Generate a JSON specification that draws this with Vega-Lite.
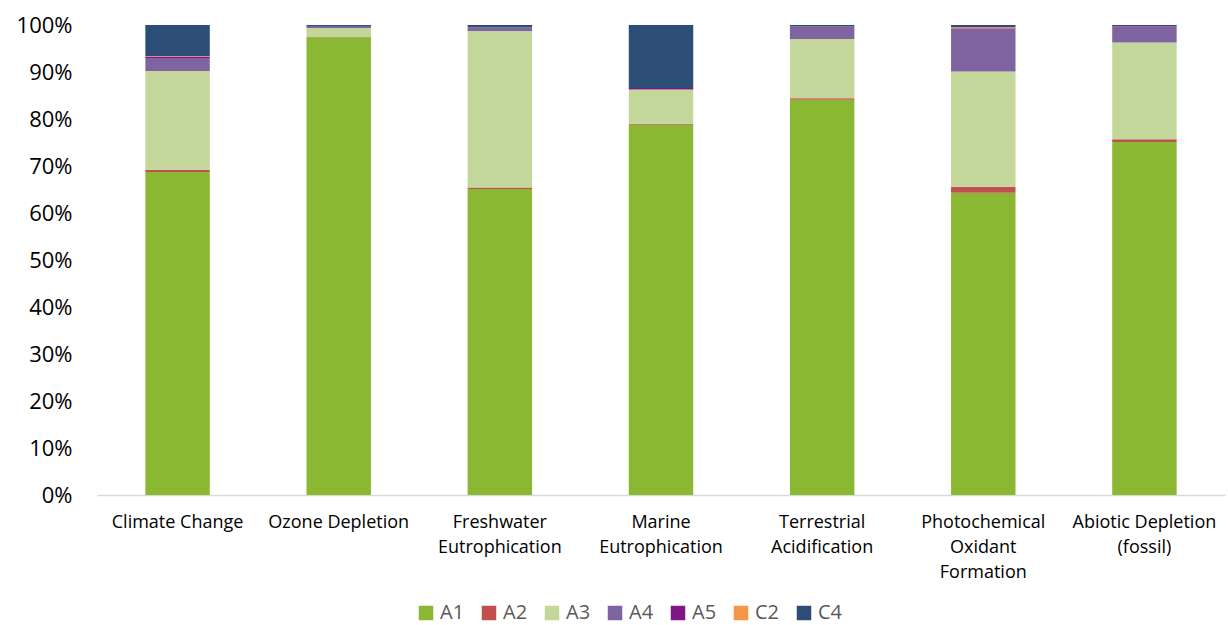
{
  "$schema": "https://vega.github.io/schema/vega-lite/v6.json",
  "width": 1128,
  "height": 470,
  "autosize": {"type": "none"},
  "padding": {"left": 97, "top": 25, "right": 3, "bottom": 130},
  "background": "white",
  "config": {
    "view": {"stroke": null},
    "font": "Open Sans"
  },
  "data": {
    "values": [
      {"cat": "Climate Change", "stage": "A1", "order": 1, "v": 68.7},
      {"cat": "Climate Change", "stage": "A2", "order": 2, "v": 0.5},
      {"cat": "Climate Change", "stage": "A3", "order": 3, "v": 21.0},
      {"cat": "Climate Change", "stage": "A4", "order": 4, "v": 2.8},
      {"cat": "Climate Change", "stage": "A5", "order": 5, "v": 0.3},
      {"cat": "Climate Change", "stage": "C2", "order": 6, "v": 0.1},
      {"cat": "Climate Change", "stage": "C4", "order": 7, "v": 6.6},

      {"cat": "Ozone Depletion", "stage": "A1", "order": 1, "v": 97.4},
      {"cat": "Ozone Depletion", "stage": "A2", "order": 2, "v": 0.05},
      {"cat": "Ozone Depletion", "stage": "A3", "order": 3, "v": 1.9},
      {"cat": "Ozone Depletion", "stage": "A4", "order": 4, "v": 0.45},
      {"cat": "Ozone Depletion", "stage": "A5", "order": 5, "v": 0.0},
      {"cat": "Ozone Depletion", "stage": "C2", "order": 6, "v": 0.0},
      {"cat": "Ozone Depletion", "stage": "C4", "order": 7, "v": 0.2},

      {"cat": "Freshwater Eutrophication", "stage": "A1", "order": 1, "v": 65.1},
      {"cat": "Freshwater Eutrophication", "stage": "A2", "order": 2, "v": 0.3},
      {"cat": "Freshwater Eutrophication", "stage": "A3", "order": 3, "v": 33.3},
      {"cat": "Freshwater Eutrophication", "stage": "A4", "order": 4, "v": 0.8},
      {"cat": "Freshwater Eutrophication", "stage": "A5", "order": 5, "v": 0.0},
      {"cat": "Freshwater Eutrophication", "stage": "C2", "order": 6, "v": 0.0},
      {"cat": "Freshwater Eutrophication", "stage": "C4", "order": 7, "v": 0.5},

      {"cat": "Marine Eutrophication", "stage": "A1", "order": 1, "v": 78.8},
      {"cat": "Marine Eutrophication", "stage": "A2", "order": 2, "v": 0.2},
      {"cat": "Marine Eutrophication", "stage": "A3", "order": 3, "v": 7.3},
      {"cat": "Marine Eutrophication", "stage": "A4", "order": 4, "v": 0.0},
      {"cat": "Marine Eutrophication", "stage": "A5", "order": 5, "v": 0.3},
      {"cat": "Marine Eutrophication", "stage": "C2", "order": 6, "v": 0.0},
      {"cat": "Marine Eutrophication", "stage": "C4", "order": 7, "v": 13.4},

      {"cat": "Terrestrial Acidification", "stage": "A1", "order": 1, "v": 84.1},
      {"cat": "Terrestrial Acidification", "stage": "A2", "order": 2, "v": 0.3},
      {"cat": "Terrestrial Acidification", "stage": "A3", "order": 3, "v": 12.6},
      {"cat": "Terrestrial Acidification", "stage": "A4", "order": 4, "v": 2.7},
      {"cat": "Terrestrial Acidification", "stage": "A5", "order": 5, "v": 0.0},
      {"cat": "Terrestrial Acidification", "stage": "C2", "order": 6, "v": 0.0},
      {"cat": "Terrestrial Acidification", "stage": "C4", "order": 7, "v": 0.3},

      {"cat": "Photochemical Oxidant Formation", "stage": "A1", "order": 1, "v": 64.3},
      {"cat": "Photochemical Oxidant Formation", "stage": "A2", "order": 2, "v": 1.3},
      {"cat": "Photochemical Oxidant Formation", "stage": "A3", "order": 3, "v": 24.5},
      {"cat": "Photochemical Oxidant Formation", "stage": "A4", "order": 4, "v": 9.1},
      {"cat": "Photochemical Oxidant Formation", "stage": "A5", "order": 5, "v": 0.1},
      {"cat": "Photochemical Oxidant Formation", "stage": "C2", "order": 6, "v": 0.2},
      {"cat": "Photochemical Oxidant Formation", "stage": "C4", "order": 7, "v": 0.5},

      {"cat": "Abiotic Depletion (fossil)", "stage": "A1", "order": 1, "v": 75.1},
      {"cat": "Abiotic Depletion (fossil)", "stage": "A2", "order": 2, "v": 0.6},
      {"cat": "Abiotic Depletion (fossil)", "stage": "A3", "order": 3, "v": 20.6},
      {"cat": "Abiotic Depletion (fossil)", "stage": "A4", "order": 4, "v": 3.4},
      {"cat": "Abiotic Depletion (fossil)", "stage": "A5", "order": 5, "v": 0.1},
      {"cat": "Abiotic Depletion (fossil)", "stage": "C2", "order": 6, "v": 0.0},
      {"cat": "Abiotic Depletion (fossil)", "stage": "C4", "order": 7, "v": 0.2}
    ]
  },
  "mark": {"type": "bar"},
  "encoding": {
    "x": {
      "field": "cat",
      "type": "nominal",
      "sort": null,
      "title": null,
      "scale": {"paddingInner": 0.6, "paddingOuter": 0.3},
      "axis": {
        "labelAngle": 0,
        "labelExpr": "datum.label == 'Freshwater Eutrophication' ? ['Freshwater','Eutrophication'] : datum.label == 'Marine Eutrophication' ? ['Marine','Eutrophication'] : datum.label == 'Terrestrial Acidification' ? ['Terrestrial','Acidification'] : datum.label == 'Photochemical Oxidant Formation' ? ['Photochemical','Oxidant','Formation'] : datum.label == 'Abiotic Depletion (fossil)' ? ['Abiotic Depletion','(fossil)'] : datum.label",
        "labelFontSize": 18,
        "labelColor": "#000000",
        "labelLineHeight": 25,
        "labelPadding": 18,
        "labelBaseline": "top",
        "labelOverlap": false,
        "ticks": false,
        "domainColor": "#d9d9d9",
        "domainWidth": 1.5,
        "labelLimit": 300
      }
    },
    "y": {
      "field": "v",
      "type": "quantitative",
      "aggregate": "sum",
      "stack": "normalize",
      "title": null,
      "scale": {"domain": [0, 1]},
      "axis": {
        "format": ".0%",
        "values": [0, 0.1, 0.2, 0.3, 0.4, 0.5, 0.6, 0.7, 0.8, 0.9, 1.0],
        "labelOverlap": false,
        "labelFontSize": 22,
        "labelColor": "#000000",
        "labelPadding": 25,
        "ticks": false,
        "domain": false,
        "grid": false
      }
    },
    "color": {
      "field": "stage",
      "type": "nominal",
      "sort": ["A1", "A2", "A3", "A4", "A5", "C2", "C4"],
      "scale": {
        "domain": ["A1", "A2", "A3", "A4", "A5", "C2", "C4"],
        "range": ["#8AB833", "#C0504D", "#C4D79B", "#8064A2", "#7F1786", "#F79646", "#2C4D75"]
      },
      "legend": {
        "title": null,
        "orient": "none",
        "direction": "horizontal",
        "legendX": 319,
        "legendY": 578,
        "symbolType": "square",
        "symbolSize": 210,
        "symbolStrokeWidth": 0,
        "symbolOpacity": 1,
        "labelFontSize": 20,
        "labelColor": "#595959",
        "labelOffset": 4,
        "columnPadding": 14
      }
    },
    "order": {"field": "order", "type": "quantitative", "sort": "ascending"}
  }
}
